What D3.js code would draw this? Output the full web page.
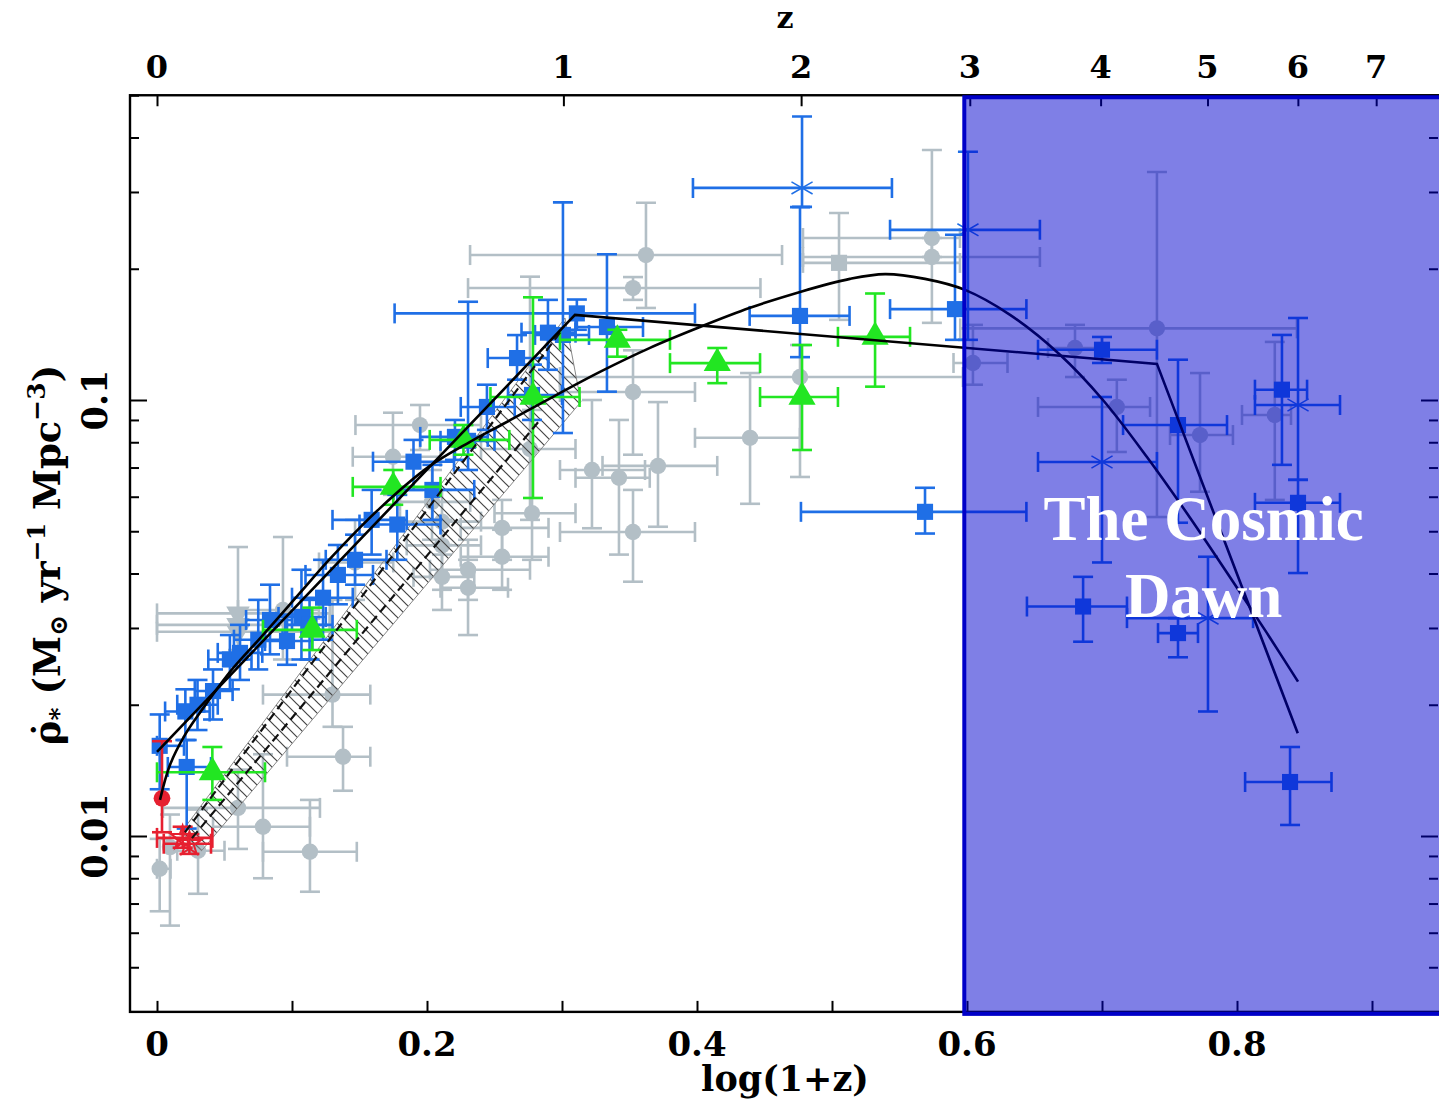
<!DOCTYPE html>
<html><head><meta charset="utf-8">
<script src="https://cdn.jsdelivr.net/npm/d3@7"></script>
<style>body{margin:0;background:#fff;overflow:hidden}</style>
</head><body>
<svg id="c" width="1439" height="1099"></svg>
<script>
// ---------------- data (x = log(1+z), y = SFR density) ----------------
const xLabelTicks = [0, 0.2, 0.4, 0.6, 0.8];
const xAllTicks = [0, 0.1, 0.2, 0.3, 0.4, 0.5, 0.6, 0.7, 0.8, 0.9];
const zTicks = [0, 1, 2, 3, 4, 5, 6, 7];
const yLabelTicks = [0.01, 0.1];
const yMinorTicks = [0.005, 0.006, 0.007, 0.008, 0.009, 0.02, 0.03, 0.04, 0.05, 0.06, 0.07, 0.08, 0.09, 0.2, 0.3, 0.4, 0.5];
const dawnStart = 0.598;
const dawnLines = ["The Cosmic", "Dawn"];

// [x, rho, xLo, xHi, rhoLo, rhoHi]
const greyCircles = [
 [0.002,0.00841,0.0,0.010,0.00672,0.00985],
 [0.0096,0.00943,null,null,0.00623,0.0112],
 [0.0304,0.00925,0.015,0.050,0.00737,0.0115],
 [0.060,0.0116,0.0044,0.1207,0.00934,0.0142],
 [0.0785,0.0105,0.0415,0.1133,0.0080,0.0154],
 [0.1133,0.0092,0.0785,0.148,0.00745,0.0121],
 [0.130,0.0211,0.0785,0.158,0.0178,0.0348],
 [0.1378,0.0152,0.0963,0.158,0.0127,0.0178],
 [0.0933,0.0330,0.060,0.120,0.0254,0.0485],
 [0.1467,0.0424,0.120,0.175,0.0348,0.0531],
 [0.1748,0.0741,0.145,0.210,0.0606,0.0935],
 [0.1948,0.0876,0.147,0.240,0.0768,0.0974],
 [0.2037,0.0584,0.180,0.232,0.0478,0.0691],
 [0.2111,0.0526,0.180,0.240,0.0442,0.0622],
 [0.2111,0.0464,0.185,0.240,0.0367,0.0531],
 [0.2111,0.0393,0.190,0.235,0.0330,0.0465],
 [0.2304,0.0408,0.2022,0.2763,0.0348,0.0478],
 [0.2304,0.0371,0.210,0.260,0.0289,0.0430],
 [0.2556,0.0509,0.225,0.290,0.0430,0.0590],
 [0.2556,0.0437,0.225,0.290,0.0367,0.0504],
 [0.2778,0.0550,0.250,0.310,0.0430,0.0949],
 [0.2763,0.0772,0.240,0.310,0.0531,0.1918],
 [0.3222,0.0691,0.2985,0.3615,0.0508,0.100],
 [0.3422,0.0663,0.310,0.365,0.0442,0.090],
 [0.3711,0.0706,0.330,0.415,0.0512,0.0989],
 [0.3526,0.0498,0.2985,0.3985,0.0383,0.0622],
 [0.3526,0.1043,0.2985,0.3985,0.0749,0.130],
 [0.3526,0.1806,0.2304,0.447,0.1697,0.1914],
 [0.3622,0.2150,0.2319,0.463,0.1626,0.2833],
 [0.4393,0.0819,0.3985,0.4763,0.0578,0.1153],
 [0.4763,0.1129,0.2985,0.597,0.0666,0.1337],
 [0.574,0.2353,0.4785,0.5948,0.2128,0.3745],
 [0.574,0.2128,0.4785,0.654,0.1503,0.2353],
 [0.6044,0.1216,0.590,0.630,0.1084,0.1487],
 [0.680,0.1316,0.660,0.700,0.1129,0.1487],
 [0.7407,0.1460,0.595,0.8444,0.0539,0.3335],
 [0.711,0.0964,0.6526,0.7356,0.0760,0.1113],
 [0.7726,0.0831,0.7504,0.797,0.0616,0.1153],
 [0.828,0.0924,0.8037,0.840,0.0590,0.1359]
];
const greySquares = [[0.5052,0.2063,0.4785,0.5948,0.1527,0.2684]];
const greyTriangles = [
 [0.060,0.0324,0.0,0.128,0.0267,0.046],
 [0.060,0.0305,0.0,0.128,null,null],
 [0.060,0.0294,0.0,0.128,null,null]
];
const blueSquares = [
 [0.002,0.0161,0.0,0.020,0.0128,0.0190],
 [0.021,0.0193,0.006,0.039,0.0166,0.0217],
 [0.030,0.0200,0.015,0.045,0.0175,0.0228],
 [0.0415,0.0215,0.028,0.056,0.0185,0.0241],
 [0.054,0.0254,0.038,0.070,0.0217,0.0289],
 [0.0615,0.0263,0.045,0.078,0.0228,0.0305],
 [0.075,0.0282,0.057,0.093,0.0241,0.0348],
 [0.0837,0.0313,0.066,0.100,0.0261,0.0377],
 [0.0963,0.0280,0.080,0.115,0.0247,0.0322],
 [0.107,0.0318,0.090,0.125,0.0254,0.0408],
 [0.113,0.0305,0.095,0.130,0.0254,0.0348],
 [0.123,0.0352,0.100,0.145,0.0282,0.0430],
 [0.134,0.0397,0.110,0.160,0.0340,0.0465],
 [0.1467,0.0430,0.125,0.170,0.0377,0.0491],
 [0.159,0.0531,0.130,0.185,0.0442,0.0622],
 [0.178,0.0518,0.150,0.210,0.0430,0.0606],
 [0.190,0.0722,0.160,0.220,0.0622,0.0810],
 [0.204,0.0622,0.175,0.235,0.0531,0.0710],
 [0.2207,0.0823,0.195,0.245,0.0729,0.0900],
 [0.2304,0.0806,0.210,0.250,0.0691,0.168],
 [0.2444,0.0964,0.225,0.265,0.0854,0.1084],
 [0.2667,0.1248,0.245,0.290,0.1113,0.1409],
 [0.2778,0.1027,0.260,0.300,0.0900,0.1205],
 [0.2896,0.1427,0.270,0.310,0.1173,0.1697],
 [0.3007,0.1410,0.280,0.320,0.0840,0.284],
 [0.311,0.1580,0.176,0.3985,0.1449,0.170],
 [0.3333,0.1470,0.310,0.360,0.1045,0.216],
 [0.4763,0.1559,0.439,0.513,0.1254,0.277],
 [0.5911,0.1616,0.543,0.644,0.1374,0.2393],
 [0.5689,0.0554,0.477,0.644,0.0494,0.0629],
 [0.700,0.1304,0.6526,0.7407,0.1216,0.1395],
 [0.7563,0.0876,0.7156,0.7926,0.0523,0.1237],
 [0.8333,0.1056,0.8133,0.8519,0.0710,0.141],
 [0.8452,0.0581,0.8133,0.8763,0.0401,0.0656],
 [0.686,0.0336,0.6444,0.7185,0.0279,0.0393],
 [0.7563,0.0292,0.7415,0.7711,0.0257,0.0316],
 [0.8393,0.0133,0.806,0.870,0.0106,0.0160],
 [0.022,0.0144,0.008,0.040,0.0104,0.0166]
];
const blueStars = [
 [0.4778,0.3065,0.397,0.5444,0.2773,0.4468],
 [0.6007,0.2456,0.543,0.654,0.1374,0.371],
 [0.700,0.0721,0.6526,0.7407,0.0424,0.1016],
 [0.8452,0.0974,0.8133,0.8763,0.0656,0.1542],
 [0.7785,0.0316,0.7185,0.8119,0.0193,0.0437]
];
const greenTriangles = [
 [0.041,0.0140,0.0,0.080,0.0121,0.0160],
 [0.115,0.0297,0.0785,0.148,0.0267,0.0334],
 [0.175,0.0632,0.145,0.210,0.0575,0.0691],
 [0.227,0.0810,0.202,0.261,0.0749,0.0876],
 [0.2785,0.1016,0.247,0.313,0.0596,0.172],
 [0.341,0.1374,0.2985,0.380,0.1257,0.1449],
 [0.415,0.1215,0.380,0.4467,0.1093,0.1316],
 [0.4778,0.1016,0.4467,0.5044,0.0768,0.1337],
 [0.5319,0.1396,0.5044,0.5578,0.1073,0.1755]
];
const redCircles = [[0.0037,0.0122,null,null,0.0102,0.0165]];
const redStars = [
 [0.019,0.0099,0.0,0.041,0.0094,0.0105],
 [0.024,0.0096,0.005,0.040,0.0091,0.0101]
];
// fits
const brokenX = [0, 0.3096, 0.7407, 0.845];
const brokenRho = [0.0156, 0.1567, 0.121, 0.0172];
const curveX = [0.0022,0.0096,0.0207,0.0319,0.0541,0.0763,0.1059,0.1281,0.1652,0.2022,0.2319,0.2563,0.2837,0.3281,0.3652,0.4022,0.4393,0.4763,0.5133,0.5393,0.5689,0.5985,0.6319,0.6689,0.7007,0.7333,0.7652,0.80,0.8244,0.8452];
const curveRho = [0.0121,0.01455,0.01705,0.0192,0.0238,0.0284,0.0361,0.0432,0.0565,0.0706,0.0802,0.0881,0.098,0.116,0.1317,0.147,0.1627,0.177,0.1896,0.1944,0.1896,0.1789,0.1568,0.127,0.100,0.0740,0.0537,0.0371,0.0285,0.0226];
const bandX = [0.0180, 0.3022, 0.3140, 0.0330];
const bandRho = [0.01020, 0.1542, 0.0990, 0.00925];
const dash1X = [0.0207, 0.300], dash1Rho = [0.0102, 0.1448];
const dash2X = [0.0259, 0.2837], dash2Rho = [0.00989, 0.090];

// ---------------- scales ----------------
const svg = d3.select('#c');
const x = d3.scaleLinear().domain([-0.02, 0.95]).range([130, 1439.5]);
const y = d3.scaleLog().domain([0.01, 0.1]).range([836, 400]);
const yMin = 0.00395, yMax = 0.5;
const L = x(-0.02), R = 1438, T = y(yMax), B = y(yMin);
const zx = z => x(Math.log10(1 + z));

const defs = svg.append('defs');
defs.append('clipPath').attr('id','clip').append('rect')
  .attr('x', L).attr('y', T).attr('width', R - L).attr('height', B - T);
const pat = defs.append('pattern').attr('id','hatch').attr('patternUnits','userSpaceOnUse')
  .attr('width', 11).attr('height', 11);
pat.append('path').attr('d','M-2,-2 L13,13 M-2,9 L2,13 M9,-2 L13,2')
  .attr('stroke','#444').attr('stroke-width',1.2);

const plot = svg.append('g').attr('clip-path','url(#clip)');

const GREY = '#b3bfc6', BLUE = '#1f6fe6', GREEN = '#22e622', RED = '#e62030';
const CAP = 10;

function errorBars(data, color, w) {
  const g = plot.append('g').attr('stroke', color).attr('stroke-width', w).attr('fill','none');
  const hx = data.filter(d => d[2] != null);
  const vy = data.filter(d => d[4] != null);
  g.selectAll('line.h').data(hx).join('line').attr('class','h')
    .attr('x1', d => x(d[2])).attr('x2', d => x(d[3])).attr('y1', d => y(d[1])).attr('y2', d => y(d[1]));
  g.selectAll('line.hc1').data(hx).join('line').attr('class','hc1')
    .attr('x1', d => x(d[2])).attr('x2', d => x(d[2])).attr('y1', d => y(d[1]) - CAP).attr('y2', d => y(d[1]) + CAP);
  g.selectAll('line.hc2').data(hx).join('line').attr('class','hc2')
    .attr('x1', d => x(d[3])).attr('x2', d => x(d[3])).attr('y1', d => y(d[1]) - CAP).attr('y2', d => y(d[1]) + CAP);
  g.selectAll('line.v').data(vy).join('line').attr('class','v')
    .attr('x1', d => x(d[0])).attr('x2', d => x(d[0])).attr('y1', d => y(d[4])).attr('y2', d => y(d[5]));
  g.selectAll('line.vc1').data(vy).join('line').attr('class','vc1')
    .attr('x1', d => x(d[0]) - CAP).attr('x2', d => x(d[0]) + CAP).attr('y1', d => y(d[4])).attr('y2', d => y(d[4]));
  g.selectAll('line.vc2').data(vy).join('line').attr('class','vc2')
    .attr('x1', d => x(d[0]) - CAP).attr('x2', d => x(d[0]) + CAP).attr('y1', d => y(d[5])).attr('y2', d => y(d[5]));
}
function markers(data, type, size, color, rot, stroke) {
  const sym = d3.symbol().type(type).size(size);
  plot.append('g').selectAll('path').data(data).join('path')
    .attr('d', sym)
    .attr('transform', d => `translate(${x(d[0])},${y(d[1])}) rotate(${rot || 0})`)
    .attr('fill', stroke ? 'none' : color)
    .attr('stroke', stroke ? color : 'none')
    .attr('stroke-width', stroke || 0);
}

// grey compilation
errorBars(greyCircles, GREY, 2.6);
errorBars(greySquares, GREY, 2.6);
errorBars(greyTriangles, GREY, 2.6);
markers(greyCircles, d3.symbolCircle, 210, GREY);
markers(greySquares, d3.symbolSquare, 260, GREY);
markers(greyTriangles, d3.symbolTriangle, 240, GREY, 180);

// hatched band
const bandPts = bandX.map((v, i) => [x(v), y(bandRho[i])]);
plot.append('path').attr('d', d3.line()(bandPts) + 'Z')
  .attr('fill','url(#hatch)').attr('stroke','#888').attr('stroke-width',1);

// blue, green, red
errorBars(blueSquares, BLUE, 2.6);
errorBars(blueStars, BLUE, 2.6);
markers(blueSquares, d3.symbolSquare, 260, BLUE);
markers(blueStars, d3.symbolAsterisk, 420, BLUE, 0, 1.5);
errorBars(greenTriangles, GREEN, 2.6);
markers(greenTriangles, d3.symbolTriangle, 320, GREEN);
errorBars(redCircles, RED, 2.6);
errorBars(redStars, RED, 2.6);
markers(redCircles, d3.symbolCircle, 220, RED);
markers(redStars, d3.symbolStar, 170, RED, 0, 2);

// fits
const lineGen = d3.line().x(d => x(d[0])).y(d => y(d[1]));
plot.append('path').attr('d', lineGen(dash1X.map((v,i)=>[v,dash1Rho[i]])))
  .attr('fill','none').attr('stroke','#111').attr('stroke-width',2.2).attr('stroke-dasharray','9,5');
plot.append('path').attr('d', lineGen(dash2X.map((v,i)=>[v,dash2Rho[i]])))
  .attr('fill','none').attr('stroke','#111').attr('stroke-width',2.2).attr('stroke-dasharray','9,5');
plot.append('path').attr('d', lineGen(brokenX.map((v,i)=>[v,brokenRho[i]])))
  .attr('fill','none').attr('stroke','#000').attr('stroke-width',2.6);
plot.append('path').attr('d', d3.line().x(d => x(d[0])).y(d => y(d[1])).curve(d3.curveCatmullRom.alpha(0.5))(curveX.map((v,i)=>[v,curveRho[i]])))
  .attr('fill','none').attr('stroke','#000').attr('stroke-width',2.6);

// ---------------- axes ----------------
const tickStyle = g => { g.select('.domain').remove(); g.selectAll('line').attr('stroke','#000').attr('stroke-width',2); g.selectAll('text').remove(); };
svg.append('g').attr('transform',`translate(0,${B})`)
  .call(d3.axisBottom(x).tickValues(xAllTicks).tickSize(-11).tickFormat('')).call(tickStyle);
svg.append('g').attr('transform',`translate(0,${T})`)
  .call(d3.axisTop(x).tickValues(zTicks.map(z => Math.log10(1 + z))).tickSize(-11).tickFormat('')).call(tickStyle);
svg.append('g').attr('transform',`translate(${L},0)`)
  .call(d3.axisLeft(y).tickValues(yLabelTicks).tickSize(-17).tickFormat('')).call(tickStyle);
svg.append('g').attr('transform',`translate(${L},0)`)
  .call(d3.axisLeft(y).tickValues(yMinorTicks).tickSize(-9).tickFormat('')).call(tickStyle);
svg.append('g').attr('transform',`translate(${R},0)`)
  .call(d3.axisRight(y).tickValues(yLabelTicks).tickSize(-17).tickFormat('')).call(tickStyle);
svg.append('g').attr('transform',`translate(${R},0)`)
  .call(d3.axisRight(y).tickValues(yMinorTicks).tickSize(-9).tickFormat('')).call(tickStyle);
svg.append('rect').attr('x', L).attr('y', T).attr('width', R - L + 4).attr('height', B - T)
  .attr('fill','none').attr('stroke','#000').attr('stroke-width',2.4);

// ---------------- cosmic dawn overlay ----------------
svg.append('rect').attr('x', x(dawnStart)).attr('y', T + 2).attr('width', 1439 - x(dawnStart) + 10).attr('height', B - T)
  .attr('fill','rgb(0,0,205)').attr('fill-opacity',0.5)
  .attr('stroke','#0000c8').attr('stroke-width',4);
const dawnCx = (x(dawnStart) + 1439) / 2 + 2;
svg.append('g').selectAll('text').data(dawnLines).join('text')
  .attr('x', dawnCx).attr('y', (d, i) => 540 + i * 77)
  .attr('text-anchor','middle').attr('fill','#fff')
  .attr('font-family',"'Liberation Serif','Times New Roman',serif").attr('font-weight','bold')
  .attr('font-size', 63).text(d => d);

// ---------------- labels ----------------
const FONT = "'DejaVu Serif',serif";
svg.append('g').selectAll('text').data(xLabelTicks).join('text')
  .attr('x', d => x(d)).attr('y', 1056).attr('text-anchor','middle')
  .attr('font-family', FONT).attr('font-weight','bold')
  .attr('font-size', 34).text(d => d === 0 ? '0' : d3.format('.1f')(d));
svg.append('g').selectAll('text').data(zTicks).join('text')
  .attr('x', d => zx(d)).attr('y', 78).attr('text-anchor','middle')
  .attr('font-family', FONT).attr('font-weight','bold')
  .attr('font-size', 32).text(d => d);
svg.append('g').selectAll('text').data(yLabelTicks).join('text')
  .attr('transform', d => `translate(107,${y(d)}) rotate(-90)`).attr('text-anchor','middle')
  .attr('font-family', FONT).attr('font-weight','bold')
  .attr('font-size', 35).text(d => String(d));
svg.append('text').attr('x', 785).attr('y', 28).attr('text-anchor','middle')
  .attr('font-family', FONT).attr('font-weight','bold').attr('font-size', 30).text('z');
svg.append('text').attr('x', 785).attr('y', 1091).attr('text-anchor','middle')
  .attr('font-family', FONT).attr('font-weight','bold')
  .attr('font-size', 35).text('log(1+z)');
const yt = svg.append('text').attr('transform','translate(60,555) rotate(-90)').attr('text-anchor','middle')
  .attr('font-family', FONT).attr('font-weight','bold').attr('font-size', 37);
yt.append('tspan').text('\u03C1\u0307');
yt.append('tspan').attr('dy', 7).attr('font-size', 25).text('*');
yt.append('tspan').attr('dy', -7).text(' (M');
yt.append('tspan').attr('dy', 7).attr('font-size', 25).text('\u2299');
yt.append('tspan').attr('dy', -7).text(' yr');
yt.append('tspan').attr('dy', -15).attr('font-size', 25).text('\u22121');
yt.append('tspan').attr('dy', 15).text(' Mpc');
yt.append('tspan').attr('dy', -15).attr('font-size', 25).text('\u22123');
yt.append('tspan').attr('dy', 15).text(')');
</script>
</body></html>
